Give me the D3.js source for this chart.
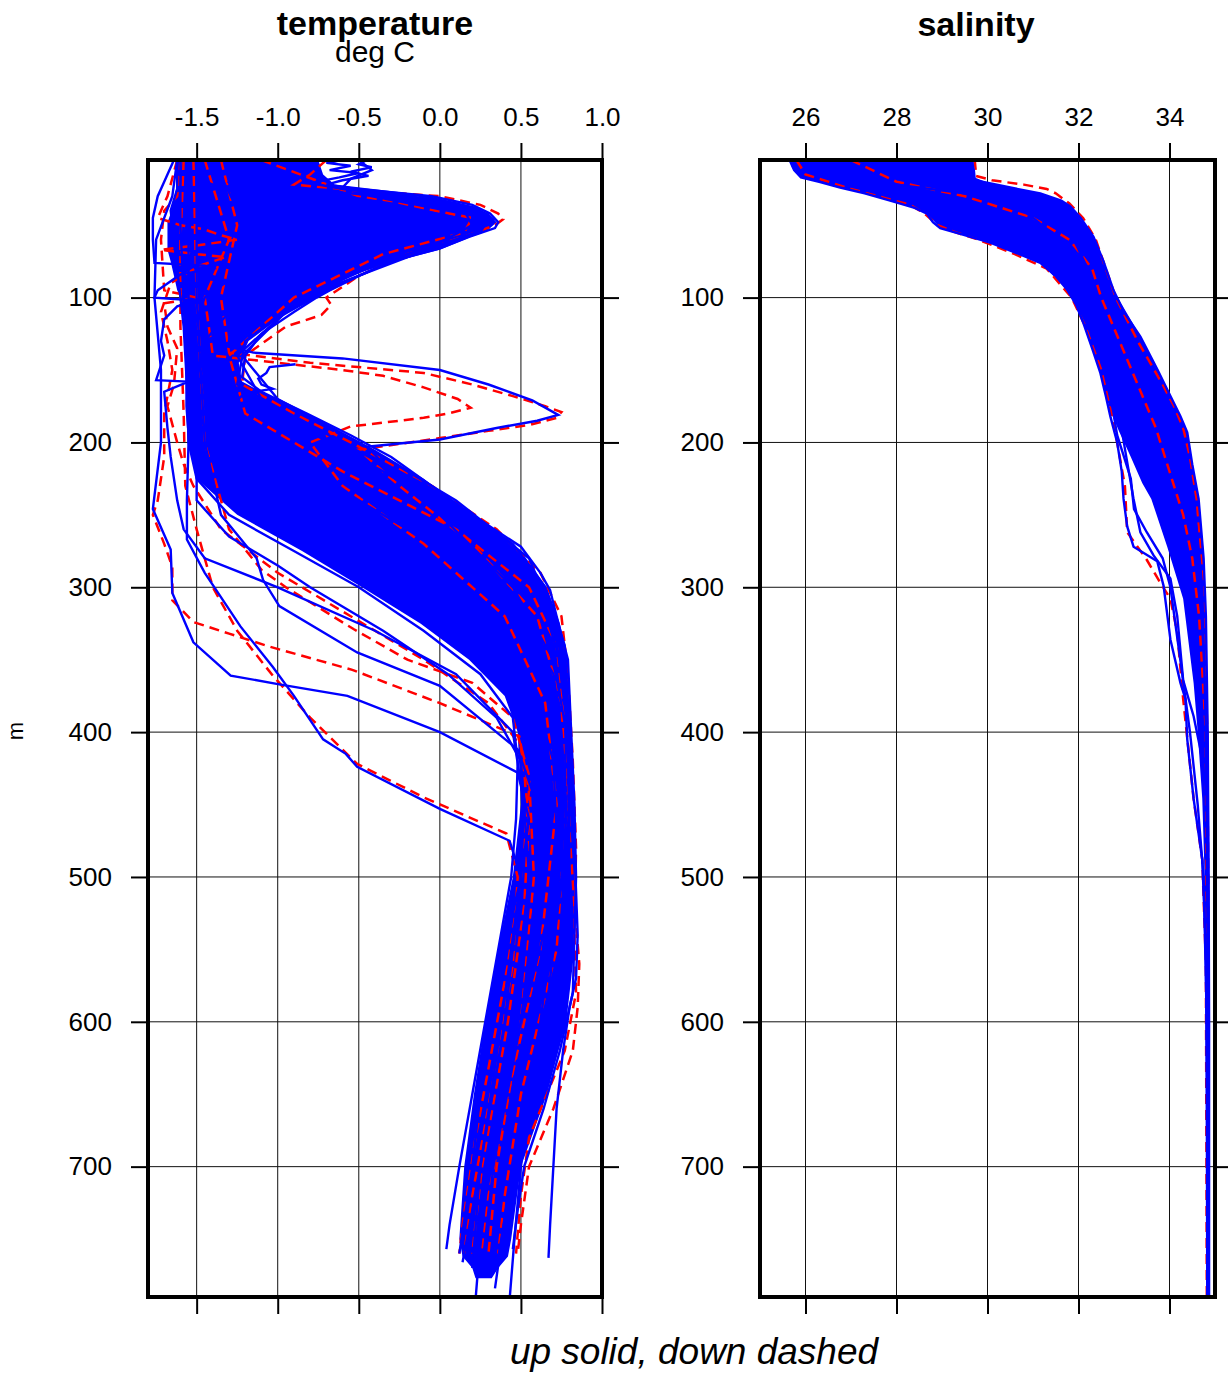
<!DOCTYPE html>
<html>
<head>
<meta charset="utf-8">
<script src="https://cdn.jsdelivr.net/npm/d3@7"></script>
<style>
  body { margin: 0; background: #fff; }
  text { font-family: "Liberation Sans", Helvetica, Arial, sans-serif; }
</style>
</head>
<body>
<svg id="chart" width="1228" height="1376"></svg>
<script>
// ---- data (depth in m, value) ----
const depthTicks = [100, 200, 300, 400, 500, 600, 700];
const tempTicks = [-1.5, -1.0, -0.5, 0.0, 0.5, 1.0];
const salTicks = [26, 28, 30, 32, 34];

// dense core of the up-cast bundle: [depth, coldest, warmest]
const tempBand = [
  [5, -1.62, -0.75], [15, -1.62, -0.72], [22, -1.62, -0.65], [27, -1.63, -0.35],
  [32, -1.64, 0.0], [37, -1.65, 0.2], [42, -1.66, 0.3], [48, -1.68, 0.35],
  [53, -1.68, 0.3], [60, -1.68, 0.15], [67, -1.68, 0.0], [75, -1.66, -0.28],
  [85, -1.64, -0.55], [95, -1.62, -0.7], [100, -1.6, -0.76], [115, -1.58, -1.0],
  [130, -1.57, -1.18], [145, -1.57, -1.24], [158, -1.57, -1.22], [165, -1.57, -1.1],
  [175, -1.57, -0.92], [190, -1.56, -0.65], [205, -1.54, -0.4], [225, -1.5, -0.1],
  [250, -1.25, 0.2], [275, -0.85, 0.5], [300, -0.48, 0.66], [325, -0.12, 0.74],
  [350, 0.18, 0.79], [375, 0.4, 0.8], [400, 0.48, 0.81], [450, 0.5, 0.83],
  [500, 0.45, 0.84], [550, 0.36, 0.83], [600, 0.28, 0.78], [650, 0.21, 0.66],
  [700, 0.15, 0.5], [750, 0.12, 0.44], [762, 0.14, 0.42], [770, 0.2, 0.36], [777, 0.22, 0.32]
];

// up casts (solid blue)
const tempUp = [
  [[5,-0.5],[12,-0.42],[18,-0.55],[24,-0.6],[30,-0.05],[36,0.2],[42,0.31],[48,0.36],[52,0.34],[58,0.18],[66,0.0],[75,-0.3],[85,-0.5],[95,-0.68],[100,-0.76],[110,-0.9],[125,-1.1],[140,-1.2],[155,-1.22],[165,-1.1],[180,-0.82],[195,-0.55],[210,-0.3],[230,-0.05],[250,0.2],[272,0.5],[290,0.62],[302,0.68],[320,0.72],[350,0.79],[375,0.8],[400,0.81],[450,0.83],[500,0.84],[540,0.83],[580,0.82],[620,0.74],[660,0.64],[700,0.52],[730,0.48],[757,0.45]],
  [[5,-1.2],[20,-1.3],[35,0.1],[45,0.3],[55,0.25],[70,-0.2],[90,-0.6],[110,-0.95],[140,-1.25],[170,-1.1],[200,-0.6],[240,0.05],[270,0.45],[300,0.65],[340,0.77],[400,0.8],[480,0.83],[540,0.85],[570,0.84],[590,0.8],[620,0.76],[660,0.72],[700,0.7],[740,0.68],[763,0.67]],
  [[5,-1.62],[25,-1.62],[40,-1.66],[80,-1.62],[120,-1.58],[160,-1.56],[200,-1.55],[225,-1.5],[250,-1.3],[275,-0.9],[300,-0.5],[330,-0.1],[360,0.25],[390,0.45],[420,0.48],[460,0.47],[500,0.44],[550,0.36],[600,0.28],[650,0.2],[700,0.12],[740,0.06],[757,0.04]],
  [[5,-1.62],[30,-1.65],[60,-1.75],[100,-1.76],[150,-1.72],[200,-1.72],[246,-1.77],[274,-1.66],[304,-1.65],[338,-1.52],[361,-1.29],[367,-0.99],[375,-0.57],[400,0.0],[428,0.48],[460,0.55],[500,0.5],[550,0.4],[600,0.32],[650,0.25],[700,0.2],[760,0.12]],
  [[5,-1.6],[50,-1.6],[100,-1.58],[150,-1.56],[200,-1.55],[240,-1.56],[267,-1.56],[290,-1.45],[327,-1.23],[355,-1.03],[375,-0.9],[405,-0.72],[415,-0.58],[424,-0.51],[453,0.0],[475,0.43],[500,0.5],[600,0.38],[700,0.25],[766,0.14]],
  [[5,-1.5],[100,-1.5],[200,-1.45],[250,-1.35],[280,-1.13],[295,-1.09],[313,-0.99],[345,-0.51],[368,0.0],[412,0.48],[450,0.6],[500,0.6],[600,0.5],[700,0.33],[760,0.27]],
  [[5,-1.55],[100,-1.55],[200,-1.5],[240,-1.5],[265,-1.3],[285,-1.0],[300,-0.8],[330,-0.35],[360,0.05],[390,0.35],[420,0.5],[500,0.55],[600,0.45],[700,0.3],[765,0.22]],
  [[5,-1.4],[50,-1.2],[100,-1.3],[134,-1.3],[138,-1.15],[142,-0.6],[150,0.0],[160,0.3],[171,0.57],[181,0.73],[185,0.6],[190,0.35],[198,0.0],[203,-0.45],[220,-0.3],[250,0.0],[300,0.45],[350,0.7],[400,0.78],[500,0.75],[600,0.65],[700,0.45],[770,0.35]],
  [[146,-0.89],[148,-1.05],[152,-1.07],[156,-1.12],[160,-1.1],[163,-1.03],[166,-1.2],[175,-1.3]],
  [[5,-1.64],[20,-1.7],[30,-1.74],[45,-1.77],[60,-1.77],[76,-1.76],[78,-1.45],[80,-1.4],[84,-1.6],[95,-1.74],[100,-1.76],[102,-1.5],[106,-1.62],[115,-1.7],[130,-1.72],[140,-1.7],[157,-1.75],[158,-1.55],[165,-1.7],[190,-1.68],[210,-1.66],[240,-1.62],[260,-1.58],[280,-1.45],[300,-1.0],[330,-0.4],[360,0.1],[400,0.45],[450,0.52],[500,0.5],[600,0.4],[700,0.25],[770,0.2]],
  [[5,-1.3],[15,-1.1],[25,-0.9],[35,-0.3],[45,0.1],[55,0.05],[70,-0.5],[90,-1.0],[110,-1.3],[130,-1.45],[150,-1.48],[170,-1.42],[190,-1.25],[210,-1.0],[240,-0.5],[270,-0.05],[300,0.3],[330,0.55],[360,0.7],[400,0.75],[450,0.78],[500,0.76],[550,0.68],[600,0.62],[650,0.55],[700,0.5],[750,0.46],[792,0.43]],
  [[5,-1.5],[20,-1.45],[30,-1.2],[40,-0.6],[50,-0.3],[60,-0.6],[80,-1.2],[100,-1.45],[130,-1.55],[160,-1.55],[190,-1.45],[220,-1.2],[250,-0.75],[280,-0.3],[310,0.1],[340,0.4],[380,0.6],[420,0.7],[470,0.72],[520,0.68],[580,0.55],[640,0.4],[700,0.3],[750,0.25],[792,0.22]],
  [[5,-0.45],[8,-0.5],[10,-0.42],[13,-0.55],[16,-0.44],[19,-0.6],[22,-0.7],[26,-0.4],[30,-0.1],[38,0.22],[46,0.33],[55,0.22],[70,-0.15],[90,-0.62],[110,-0.95],[140,-1.22],[170,-1.0],[200,-0.5],[240,0.1],[280,0.55],[320,0.7],[400,0.79],[500,0.8],[600,0.72],[700,0.46],[760,0.4]],
  [[5,-0.6],[7,-0.7],[9,-0.55],[12,-0.68],[14,-0.5],[17,-0.62],[21,-0.8],[25,-0.6],[30,-0.2],[40,0.15],[50,0.2],[62,0.0],[80,-0.45],[100,-0.85],[130,-1.2],[160,-1.25],[190,-0.85],[220,-0.35],[260,0.25],[300,0.6],[360,0.77],[450,0.8],[550,0.78],[650,0.6],[720,0.42],[784,0.34]]
];

// down casts (dashed red)
const tempDown = [
  [[5,-0.7],[15,-0.8],[22,-0.9],[26,-0.5],[30,0.0],[36,0.25],[42,0.36],[46,0.39],[50,0.34],[58,0.15],[70,-0.2],[85,-0.5],[100,-0.7],[105,-0.67],[112,-0.73],[120,-0.95],[140,-1.2],[160,-1.22],[180,-0.9],[200,-0.55],[230,-0.05],[260,0.35],[290,0.62],[320,0.75],[360,0.79],[420,0.82],[480,0.84],[540,0.83],[580,0.84],[620,0.77],[680,0.55],[720,0.5],[760,0.47]],
  [[5,-1.62],[30,-1.68],[45,-1.74],[50,-1.6],[53,-1.45],[57,-1.35],[60,-1.25],[64,-1.5],[67,-1.72],[70,-1.5],[72,-1.32],[78,-1.48],[90,-1.66],[110,-1.72],[130,-1.68],[150,-1.65],[180,-1.7],[210,-1.7],[240,-1.74],[250,-1.77],[270,-1.7],[286,-1.65],[309,-1.65],[324,-1.52],[332,-1.3],[341,-1.05],[357,-0.54],[380,0.0],[403,0.49],[440,0.55],[500,0.5],[560,0.42],[620,0.32],[680,0.22],[740,0.14],[760,0.12]],
  [[5,-1.35],[50,-1.25],[100,-1.35],[138,-1.3],[145,-0.8],[152,-0.1],[160,0.2],[168,0.45],[175,0.65],[179,0.75],[183,0.72],[188,0.55],[192,0.3],[197,0.0],[205,-0.5],[230,-0.25],[270,0.2],[320,0.6],[380,0.75],[450,0.78],[550,0.72],[650,0.5],[720,0.4],[760,0.36]],
  [[5,-1.45],[60,-1.3],[100,-1.45],[140,-1.4],[150,-0.6],[154,-0.35],[162,-0.1],[170,0.11],[176,0.19],[180,0.05],[183,-0.1],[189,-0.55],[200,-0.8],[230,-0.6],[270,-0.1],[320,0.4],[380,0.65],[450,0.72],[550,0.62],[650,0.42],[720,0.3],[760,0.26]],
  [[5,-1.58],[60,-1.6],[120,-1.6],[180,-1.58],[230,-1.57],[260,-1.5],[300,-1.4],[330,-1.25],[361,-1.03],[390,-0.8],[422,-0.51],[445,-0.1],[470,0.41],[500,0.48],[560,0.45],[640,0.33],[720,0.2],[760,0.15]],
  [[5,-1.52],[100,-1.5],[200,-1.45],[260,-1.3],[288,-1.1],[300,-0.95],[329,-0.53],[350,-0.2],[366,0.2],[390,0.45],[430,0.55],[500,0.58],[600,0.5],[700,0.35],[760,0.3]],
  [[5,-1.6],[30,-1.62],[40,-1.7],[60,-1.72],[95,-1.7],[100,-1.5],[104,-1.7],[120,-1.68],[135,-1.62],[160,-1.64],[175,-1.68],[200,-1.62],[215,-1.58],[230,-1.52],[260,-1.35],[290,-1.0],[320,-0.55],[350,-0.1],[380,0.3],[410,0.5],[460,0.55],[520,0.52],[600,0.42],[700,0.26],[760,0.2]],
  [[5,-1.1],[30,-0.5],[45,0.2],[55,0.15],[70,-0.35],[100,-0.9],[140,-1.3],[180,-1.2],[220,-0.6],[260,0.1],[300,0.55],[340,0.72],[400,0.78],[470,0.8],[520,0.83],[560,0.86],[590,0.85],[620,0.82],[660,0.7],[700,0.55],[740,0.5],[760,0.48]]
];

const salBand = [
  [5, 25.65, 29.7], [10, 25.7, 29.7], [17, 25.9, 29.72], [20, 26.3, 29.95],
  [24, 26.76, 30.5], [28, 27.3, 31.15], [33, 27.86, 31.62], [37, 28.3, 31.82],
  [42, 28.67, 31.95], [52, 28.96, 32.2], [58, 29.6, 32.33], [62, 30.06, 32.4],
  [70, 30.7, 32.5], [76, 31.16, 32.55], [95, 31.76, 32.77], [117, 32.1, 33.18],
  [127, 32.2, 33.36], [152, 32.48, 33.76], [168, 32.6, 34.02], [182, 32.75, 34.24],
  [193, 32.9, 34.39], [210, 33.15, 34.48], [228, 33.4, 34.57], [239, 33.6, 34.64],
  [272, 33.95, 34.74], [308, 34.3, 34.79], [366, 34.53, 34.82], [400, 34.62, 34.84],
  [446, 34.72, 34.86], [487, 34.76, 34.86], [550, 34.8, 34.87], [790, 34.82, 34.87]
];

const salUp = [
  [[5,25.65],[12,25.75],[17,25.9],[20,26.3],[24,26.76],[28,27.3],[33,27.86],[38,28.4],[42,28.67],[48,28.8],[52,28.96],[56,29.4],[62,30.06],[70,30.7],[76,31.16],[85,31.5],[95,31.76],[105,31.95],[117,32.1],[135,32.3],[152,32.48],[168,32.6],[182,32.7],[200,32.85],[220,32.95],[239,32.99],[258,33.07],[272,33.21],[282,33.73],[299,33.87],[336,34.02],[366,34.24],[377,34.35],[405,34.39],[446,34.53],[488,34.72],[550,34.8],[650,34.82],[790,34.83]],
  [[5,29.65],[12,29.7],[19,29.72],[24,30.5],[28,31.16],[33,31.62],[37,31.82],[45,32.05],[58,32.33],[75,32.55],[95,32.77],[110,33.0],[127,33.36],[150,33.74],[168,34.02],[182,34.24],[193,34.39],[215,34.5],[239,34.64],[280,34.75],[320,34.8],[400,34.84],[500,34.86],[600,34.87],[790,34.87]],
  [[5,27.5],[20,28.5],[30,30.0],[45,31.2],[60,31.9],[80,32.2],[100,32.3],[120,32.45],[138,32.6],[145,32.68],[152,32.62],[165,32.8],[182,32.78],[195,32.85],[210,33.0],[225,33.15],[246,33.22],[262,33.5],[280,33.85],[300,34.02],[330,34.15],[360,34.28],[400,34.45],[450,34.62],[500,34.75],[600,34.82],[790,34.84]],
  [[5,26.5],[20,27.5],[28,29.5],[40,30.8],[60,31.6],[90,32.1],[120,32.4],[150,32.7],[182,32.9],[210,33.05],[239,33.21],[262,33.36],[278,33.65],[294,34.02],[320,34.17],[364,34.3],[389,34.53],[412,34.68],[446,34.84],[600,34.86],[790,34.86]],
  [[5,28.5],[19,29.6],[28,30.8],[40,31.6],[60,32.1],[90,32.5],[120,32.9],[150,33.4],[170,33.7],[185,34.0],[200,34.2],[230,34.45],[260,34.6],[300,34.72],[400,34.8],[600,34.85],[790,34.86]]
];

const salDown = [
  [[5,29.72],[16,29.75],[19,30.1],[22,30.8],[25,31.3],[28,31.5],[35,31.8],[45,32.1],[60,32.38],[80,32.6],[100,32.82],[130,33.3],[160,33.85],[175,34.1],[190,34.3],[210,34.45],[240,34.6],[300,34.75],[400,34.83],[500,34.85],[790,34.86]],
  [[5,25.8],[15,26.0],[20,26.5],[25,27.0],[30,27.6],[36,28.3],[42,28.62],[50,28.9],[55,29.3],[60,29.8],[70,30.6],[80,31.3],[100,31.85],[120,32.15],[150,32.5],[180,32.72],[200,32.85],[230,33.02],[262,33.07],[281,33.5],[297,33.8],[308,34.02],[331,34.17],[377,34.3],[446,34.53],[488,34.72],[560,34.8],[790,34.82]],
  [[5,27.0],[20,28.0],[30,29.5],[45,31.0],[60,31.8],[80,32.3],[100,32.5],[130,32.9],[160,33.3],[190,33.7],[220,34.0],[250,34.3],[280,34.5],[320,34.65],[400,34.8],[790,34.85]]
];

// ---- drawing ----
const svg = d3.select('#chart');
const FONT = '"Liberation Sans", Helvetica, Arial, sans-serif';
const plotTop = 160, plotBottom = 1297;
const y = d3.scaleLinear().domain([5, 790]).range([plotTop, plotBottom]);

function drawPanel(id, x, ticks, fmt, band, down, up) {
    const [x0, x1] = x.range();
    const g = svg.append('g');

    // grid
    g.append('g').selectAll('line').data(ticks).join('line')
        .attr('x1', d => x(d)).attr('x2', d => x(d))
        .attr('y1', plotTop).attr('y2', plotBottom)
        .attr('stroke', '#111').attr('stroke-width', 1);
    g.append('g').selectAll('line').data(depthTicks).join('line')
        .attr('x1', x0).attr('x2', x1)
        .attr('y1', d => y(d)).attr('y2', d => y(d))
        .attr('stroke', '#111').attr('stroke-width', 1);

    svg.append('clipPath').attr('id', 'clip-' + id)
        .append('rect').attr('x', x0).attr('y', plotTop)
        .attr('width', x1 - x0).attr('height', plotBottom - plotTop);

    const plot = g.append('g').attr('clip-path', `url(#clip-${id})`);

    const area = d3.area()
        .y(d => y(d[0])).x0(d => x(d[1])).x1(d => x(d[2]));
    const line = d3.line().x(d => x(d[1])).y(d => y(d[0]));

    plot.append('path').datum(band)
        .attr('d', area).attr('fill', '#0000ff');

    plot.append('g').selectAll('path').data(down).join('path')
        .attr('d', line).attr('fill', 'none')
        .attr('stroke', '#ff0000').attr('stroke-width', 2.5)
        .attr('stroke-dasharray', '10,6');

    plot.append('g').selectAll('path').data(up).join('path')
        .attr('d', line).attr('fill', 'none')
        .attr('stroke', '#0000ff').attr('stroke-width', 2.4);

    // frame
    g.append('rect').attr('x', x0).attr('y', plotTop)
        .attr('width', x1 - x0).attr('height', plotBottom - plotTop)
        .attr('fill', 'none').attr('stroke', '#000').attr('stroke-width', 4);

    const style = a => {
        a.select('.domain').remove();
        a.attr('font-family', FONT).attr('font-size', 26);
        a.selectAll('line').attr('stroke-width', 2);
        a.selectAll('text').attr('fill', '#000');
    };

    g.append('g').attr('transform', `translate(0,${plotTop})`)
        .call(d3.axisTop(x).tickValues(ticks).tickSize(17).tickPadding(17).tickFormat(fmt))
        .call(style);
    g.append('g').attr('transform', `translate(0,${plotBottom})`)
        .call(d3.axisBottom(x).tickValues(ticks).tickSize(17).tickFormat(''))
        .call(style);
    g.append('g').attr('transform', `translate(${x0},0)`)
        .call(d3.axisLeft(y).tickValues(depthTicks).tickSize(17).tickPadding(19).tickFormat(d3.format('d')))
        .call(style);
    g.append('g').attr('transform', `translate(${x1},0)`)
        .call(d3.axisRight(y).tickValues(depthTicks).tickSize(17).tickFormat(''))
        .call(style);
}

const xT = d3.scaleLinear().domain([-1.8, 1.0]).range([148, 602]);
const xS = d3.scaleLinear().domain([25, 35]).range([760, 1215]);

drawPanel('temp', xT, tempTicks, d => d.toFixed(1), tempBand, tempDown, tempUp);
drawPanel('sal', xS, salTicks, d3.format('d'), salBand, salDown, salUp);

// titles and labels
svg.append('text').attr('x', 375).attr('y', 35).attr('text-anchor', 'middle')
    .attr('font-size', 34).attr('font-weight', 'bold').text('temperature');
svg.append('text').attr('x', 375).attr('y', 62).attr('text-anchor', 'middle')
    .attr('font-size', 30).text('deg C');
svg.append('text').attr('x', 976).attr('y', 36).attr('text-anchor', 'middle')
    .attr('font-size', 34).attr('font-weight', 'bold').text('salinity');
svg.append('text').attr('transform', 'translate(23,731) rotate(-90)')
    .attr('text-anchor', 'middle').attr('font-size', 22).text('m');
svg.append('text').attr('x', 694).attr('y', 1364).attr('text-anchor', 'middle')
    .attr('font-size', 37).attr('font-style', 'italic').text('up solid, down dashed');
</script>
</body>
</html>
